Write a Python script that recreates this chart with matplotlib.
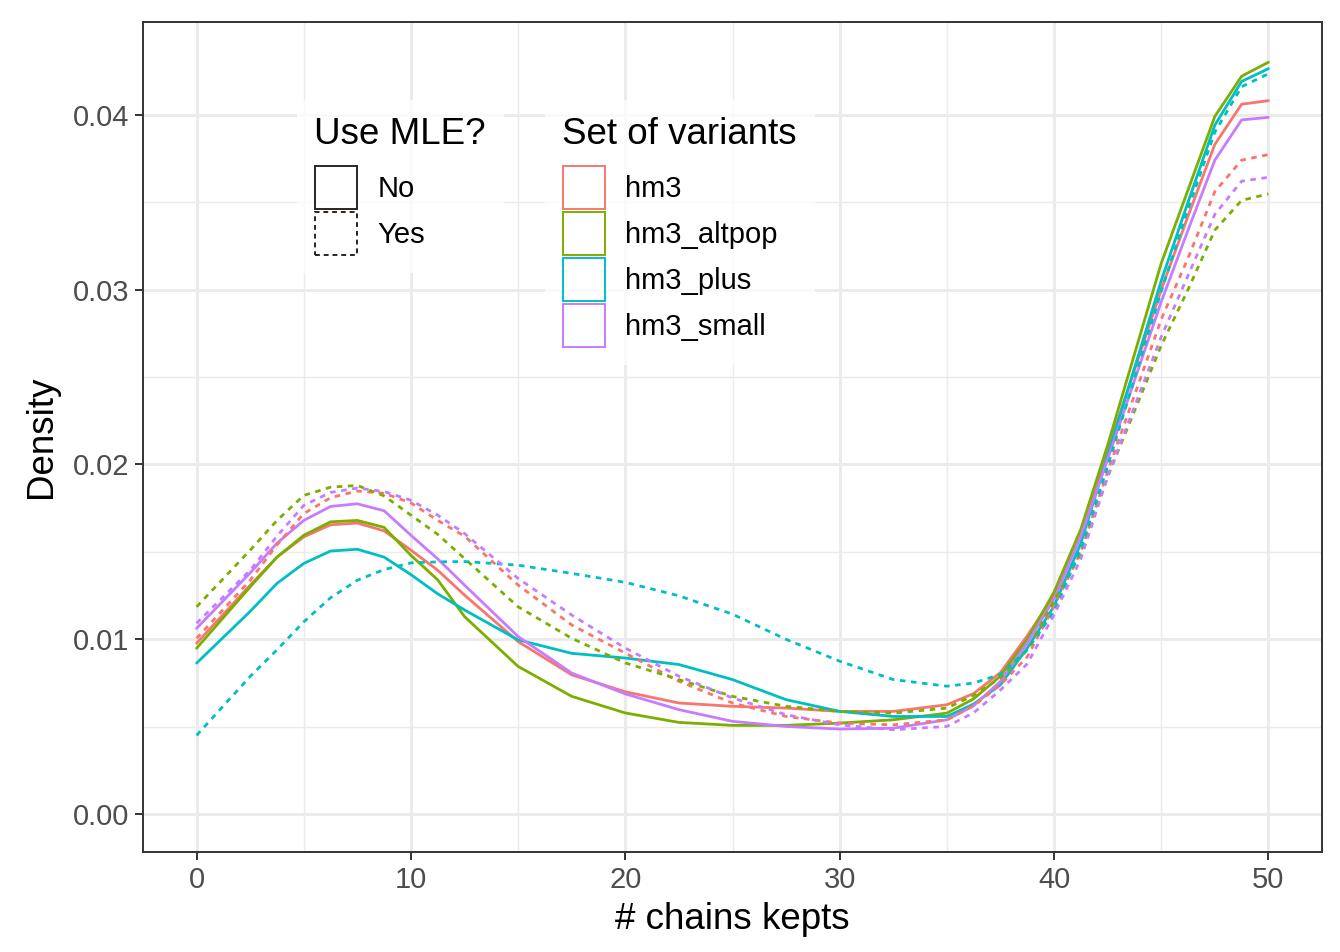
import matplotlib
matplotlib.use("Agg")
import matplotlib.pyplot as plt
from matplotlib.patches import Rectangle

plt.rcParams['font.family'] = ['Liberation Sans', 'DejaVu Sans']

# ---- data ----
chains = [0, 2.5, 3.75, 5, 6.25, 7.5, 8.75, 10, 11.25, 12.5, 15, 17.5, 20, 22.5,
          25, 27.5, 30, 32.5, 35, 36.25, 37.5, 38.75, 40, 41.25, 42.5, 45,
          46.25, 47.5, 48.75, 50]

variants = ["hm3", "hm3_altpop", "hm3_plus", "hm3_small"]
mle_levels = ["No", "Yes"]

hm3_no = [0.00978, 0.01310, 0.01470, 0.01586, 0.01655, 0.01665, 0.01620, 0.01510,
          0.01395, 0.01253, 0.00987, 0.00797, 0.00700, 0.00636, 0.00617, 0.00607,
          0.00588, 0.00588, 0.00626, 0.00690, 0.00810, 0.01020, 0.01250, 0.01610,
          0.02080, 0.03000, 0.03420, 0.03830, 0.04060, 0.04080]
hm3_altpop_no = [0.00949, 0.01300, 0.01470, 0.01595, 0.01672, 0.01680, 0.01640, 0.01480,
                 0.01340, 0.01130, 0.00845, 0.00674, 0.00579, 0.00525, 0.00508, 0.00508,
                 0.00521, 0.00540, 0.00578, 0.00660, 0.00790, 0.01000, 0.01270, 0.01630,
                 0.02110, 0.03150, 0.03570, 0.03990, 0.04220, 0.04300]
hm3_plus_no = [0.00864, 0.01160, 0.01320, 0.01434, 0.01505, 0.01515, 0.01470, 0.01370,
               0.01260, 0.01168, 0.00997, 0.00920, 0.00893, 0.00856, 0.00770, 0.00655,
               0.00588, 0.00559, 0.00559, 0.00630, 0.00740, 0.00950, 0.01190, 0.01550,
               0.02050, 0.03050, 0.03500, 0.03940, 0.04190, 0.04263]
hm3_small_no = [0.01063, 0.01380, 0.01550, 0.01680, 0.01760, 0.01775, 0.01735, 0.01595,
                0.01460, 0.01310, 0.01016, 0.00807, 0.00688, 0.00598, 0.00531, 0.00502,
                0.00487, 0.00492, 0.00540, 0.00620, 0.00760, 0.00980, 0.01230, 0.01590,
                0.02030, 0.02930, 0.03340, 0.03740, 0.03970, 0.03985]

hm3_yes = [0.01006, 0.01338, 0.01540, 0.01719, 0.01810, 0.01848, 0.01835, 0.01780,
           0.01680, 0.01590, 0.01310, 0.01082, 0.00921, 0.00760, 0.00636, 0.00559,
           0.00521, 0.00511, 0.00540, 0.00620, 0.00740, 0.00900, 0.01190, 0.01500,
           0.01960, 0.02830, 0.03180, 0.03560, 0.03740, 0.03772]
hm3_altpop_yes = [0.01186, 0.01510, 0.01680, 0.01823, 0.01870, 0.01880, 0.01820, 0.01710,
                  0.01600, 0.01462, 0.01186, 0.01006, 0.00865, 0.00770, 0.00674, 0.00617,
                  0.00588, 0.00578, 0.00607, 0.00680, 0.00780, 0.00940, 0.01220, 0.01490,
                  0.01930, 0.02680, 0.03000, 0.03340, 0.03510, 0.03547]
hm3_plus_yes = [0.00451, 0.00788, 0.00940, 0.01100, 0.01238, 0.01338, 0.01399, 0.01437,
                0.01443, 0.01445, 0.01424, 0.01377, 0.01326, 0.01249, 0.01144, 0.01000,
                0.00875, 0.00770, 0.00732, 0.00750, 0.00800, 0.00940, 0.01160, 0.01520,
                0.01990, 0.02990, 0.03460, 0.03900, 0.04160, 0.04234]
hm3_small_yes = [0.01092, 0.01395, 0.01590, 0.01766, 0.01840, 0.01865, 0.01845, 0.01795,
                 0.01710, 0.01605, 0.01348, 0.01139, 0.00950, 0.00789, 0.00665, 0.00569,
                 0.00511, 0.00483, 0.00502, 0.00580, 0.00710, 0.00860, 0.01140, 0.01460,
                 0.01930, 0.02730, 0.03080, 0.03430, 0.03620, 0.03642]

series = {
    ("hm3", "No"): hm3_no, ("hm3_altpop", "No"): hm3_altpop_no,
    ("hm3_plus", "No"): hm3_plus_no, ("hm3_small", "No"): hm3_small_no,
    ("hm3", "Yes"): hm3_yes, ("hm3_altpop", "Yes"): hm3_altpop_yes,
    ("hm3_plus", "Yes"): hm3_plus_yes, ("hm3_small", "Yes"): hm3_small_yes,
}

x_ticks = [0, 10, 20, 30, 40, 50]
y_ticks = [0.00, 0.01, 0.02, 0.03, 0.04]
y_tick_labels = ["0.00", "0.01", "0.02", "0.03", "0.04"]

# ---- styling ----
colors = {"hm3": "#F8766D", "hm3_altpop": "#7CAE00", "hm3_plus": "#00BFC4", "hm3_small": "#C77CFF"}
dash = (0, (2.0, 2.0))
styles = {"No": "-", "Yes": dash}

fig = plt.figure(figsize=(13.4, 9.52), dpi=100)
fig.patch.set_facecolor("white")
ax = fig.add_axes([143 / 1340, 1 - 852 / 952, (1322 - 143) / 1340, (852 - 22) / 952])
ax.set_facecolor("white")

for (var, mle), vals in series.items():
    ax.plot(chains, vals, color=colors[var], linestyle=styles[mle], lw=2.0,
            solid_capstyle="round", solid_joinstyle="round", dash_capstyle="butt")

ax.set_xlim(-2.5, 52.5)
ax.set_ylim(-0.00216, 0.04530)
ax.set_xticks(x_ticks)
ax.set_xticklabels([str(t) for t in x_ticks])
ax.set_yticks(y_ticks)
ax.set_yticklabels(y_tick_labels)
ax.set_xticks([5, 15, 25, 35, 45], minor=True)
ax.set_yticks([0.005, 0.015, 0.025, 0.035], minor=True)
ax.grid(which="major", color="#EBEBEB", lw=2.1)
ax.grid(which="minor", color="#EBEBEB", lw=1.05)
ax.set_axisbelow(True)
ax.tick_params(which="minor", length=0)
ax.tick_params(which="major", length=5.8, width=1.4, color="#333333",
               labelsize=21, labelcolor="#4D4D4D", pad=4)
for s in ax.spines.values():
    s.set_color("#333333")
    s.set_linewidth(1.4)

ax.set_xlabel("# chains kepts", fontsize=26.5, color="black", labelpad=6)
ax.set_ylabel("Density", fontsize=26.5, color="black", labelpad=10)

# ---- legends ----
leg_kw = dict(fontsize=21, title_fontsize=26.5, handlelength=1.47, handleheight=1.89,
              handletextpad=0.68, labelspacing=0.1, borderpad=0.6, frameon=True,
              fancybox=False, alignment="left", borderaxespad=0)

h_mle = [Rectangle((0, 0), 1, 1, facecolor="none", edgecolor="#2B2520", lw=1.4,
                   linestyle="-" if m == "No" else (0, (2.5, 2.0)))
         for m in mle_levels]
leg1 = ax.legend(h_mle, mle_levels, title="Use MLE?", loc="upper left",
                 bbox_to_anchor=((297 - 143) / 1179, 1 - (100 - 22) / 830), **leg_kw)
leg1.get_frame().set_facecolor("white")
leg1.get_frame().set_edgecolor("none")
leg1._legend_box.sep = 10
ax.add_artist(leg1)

h_var = [Rectangle((0, 0), 1, 1, facecolor="none", edgecolor=colors[v], lw=1.4) for v in variants]
leg2 = ax.legend(h_var, variants, title="Set of variants", loc="upper left",
                 bbox_to_anchor=((545 - 143) / 1179, 1 - (100 - 22) / 830), **leg_kw)
leg2.get_frame().set_facecolor("white")
leg2.get_frame().set_edgecolor("none")
leg2._legend_box.sep = 10

fig.savefig("out.png", dpi=100)
